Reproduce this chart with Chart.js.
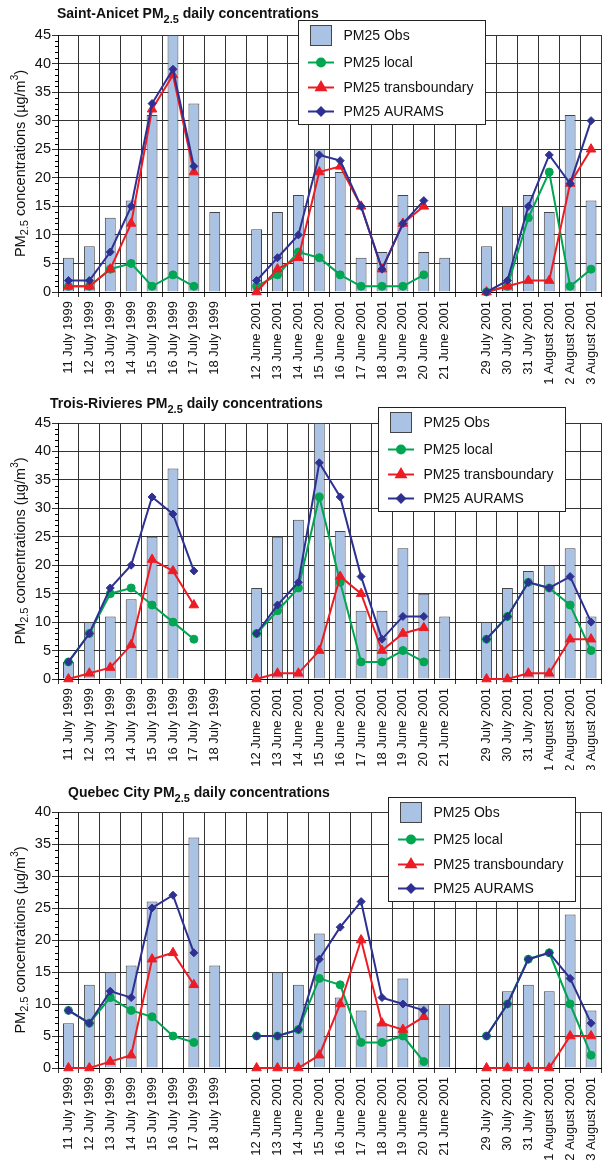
<!DOCTYPE html>
<html>
<head>
<meta charset="utf-8">
<script src="https://cdn.jsdelivr.net/npm/chart.js@4/dist/chart.umd.min.js"></script>
<style>
  body { margin: 0; background: #fff; }
  #wrap { position: relative; width: 608px; height: 1170px; overflow: hidden; }
  canvas { position: absolute; left: 0; }
</style>
</head>
<body>
<div id="wrap">
  <canvas id="c1" width="608" height="392" style="top:0"></canvas>
  <canvas id="c2" width="608" height="400" style="top:370px"></canvas>
  <canvas id="c3" width="608" height="400" style="top:770px"></canvas>
</div>
<script>
// ====== Dates (empty labels = gap between campaigns) ======
const days = [
  '11 July 1999', '12 July 1999', '13 July 1999', '14 July 1999', '15 July 1999', '16 July 1999', '17 July 1999', '18 July 1999',
  '',
  '12 June 2001', '13 June 2001', '14 June 2001', '15 June 2001', '16 June 2001', '17 June 2001', '18 June 2001', '19 June 2001', '20 June 2001', '21 June 2001',
  '',
  '29 July 2001', '30 July 2001', '31 July 2001', '1 August 2001', '2 August 2001', '3 August 2001'
];

// ====== Saint-Anicet ======
const saObs    = [6, 8, 13, 16, 31, 45, 33, 14, null, 11, 14, 17, 25, 21, 6, 7, 17, 7, 6, null, 8, 15, 17, 14, 31, 16];
const saLocal  = [1, 1, 4, 5, 1, 3, 1, null, null, 1, 3, 7, 6, 3, 1, 1, 1, 3, null, null, 0, 1, 13, 21, 1, 4];
const saTrans  = [1, 1, 4, 12, 32, 38, 21, null, null, 0, 4, 6, 21, 22, 15, 4, 12, 15, null, null, 0, 1, 2, 2, 19, 25];
const saAurams = [2, 2, 7, 15, 33, 39, 22, null, null, 2, 6, 10, 24, 23, 15, 4, 12, 16, null, null, 0, 2, 15, 24, 19, 30];

// ====== Trois-Rivieres ======
const trObs    = [3, 10, 11, 14, 25, 37, null, null, null, 16, 25, 28, 45, 26, 12, 12, 23, 15, 11, null, 10, 16, 19, 20, 23, 11];
const trLocal  = [3, 8, 15, 16, 13, 10, 7, null, null, 8, 12, 16, 32, 17, 3, 3, 5, 3, null, null, 7, 11, 17, 16, 13, 5];
const trTrans  = [0, 1, 2, 6, 21, 19, 13, null, null, 0, 1, 1, 5, 18, 15, 5, 8, 9, null, null, 0, 0, 1, 1, 7, 7];
const trAurams = [3, 8, 16, 20, 32, 29, 19, null, null, 8, 13, 17, 38, 32, 18, 7, 11, 11, null, null, 7, 11, 17, 16, 18, 10];

// ====== Quebec City ======
const qcObs    = [7, 13, 15, 16, 26, null, 36, 16, null, null, 15, 13, 21, 11, 9, 7, 14, 10, 10, null, null, 12, 13, 12, 24, 9];
const qcLocal  = [9, 7, 11, 9, 8, 5, 4, null, null, 5, 5, 6, 14, 13, 4, 4, 5, 1, null, null, 5, 10, 17, 18, 10, 2];
const qcTrans  = [0, 0, 1, 2, 17, 18, 13, null, null, 0, 0, 0, 2, 10, 20, 7, 6, 8, null, null, 0, 0, 0, 0, 5, 5];
const qcAurams = [9, 7, 12, 11, 25, 27, 18, null, null, 5, 5, 6, 17, 22, 26, 11, 10, 9, null, null, 5, 10, 17, 18, 14, 7];

const seriesNames = ['PM25 Obs', 'PM25 local', 'PM25 transboundary', 'PM25 AURAMS'];

const BAR = '#aac2e4', BAR_EDGE = '#454545';
const GREEN = '#00a651', RED = '#ed1c24', BLUE = '#2e3192';
const FONT = '"Liberation Sans", Arial, Helvetica, sans-serif';

Chart.defaults.font.family = FONT;
Chart.defaults.color = '#111';

// titles, y-axis label, minor ticks and the boxed legend
const decor = {
  id: 'decor',
  afterDraw(chart, args, o) {
    const ctx = chart.ctx;
    const y = chart.scales.y;
    const area = chart.chartArea;
    ctx.save();

    // minor ticks on the y axis
    ctx.strokeStyle = '#000';
    ctx.lineWidth = 1;
    for (let v = 0; v <= y.max; v++) {
      if (v % 5 === 0) continue;
      const py = Math.round(y.getPixelForValue(v)) + 0.5;
      ctx.beginPath();
      ctx.moveTo(area.left - 3, py);
      ctx.lineTo(area.left, py);
      ctx.stroke();
    }

    // title with subscript
    ctx.fillStyle = '#111';
    ctx.textBaseline = 'alphabetic';
    ctx.textAlign = 'left';
    let x = o.titleX;
    ctx.font = 'bold 14px ' + FONT;
    ctx.fillText(o.station + ' PM', x, o.titleY);
    x += ctx.measureText(o.station + ' PM').width;
    ctx.font = 'bold 11px ' + FONT;
    ctx.fillText('2.5', x, o.titleY + 5);
    x += ctx.measureText('2.5').width;
    ctx.font = 'bold 14px ' + FONT;
    ctx.fillText(' daily concentrations', x, o.titleY);

    // y axis title, rotated
    const parts = [
      ['PM', '14.5px', 0], ['2.5', '11px', 4], [' concentrations (\u00b5g/m', '14.5px', 0], ['3', '10px', -6], [')', '14.5px', 0]
    ];
    let total = 0;
    parts.forEach(p => { ctx.font = p[1] + ' ' + FONT; total += ctx.measureText(p[0]).width; });
    ctx.translate(21, (area.top + area.bottom) / 2);
    ctx.rotate(-Math.PI / 2);
    ctx.textBaseline = 'middle';
    let tx = -total / 2;
    parts.forEach(p => {
      ctx.font = p[1] + ' ' + FONT;
      ctx.fillText(p[0], tx, p[2]);
      tx += ctx.measureText(p[0]).width;
    });
    ctx.setTransform(1, 0, 0, 1, 0, 0);

    // legend box
    const lx = o.legendX + 0.5, ly = o.legendY + 0.5;
    ctx.fillStyle = '#fff';
    ctx.strokeStyle = '#222';
    ctx.lineWidth = 1;
    ctx.fillRect(lx, ly, 187, 104);
    ctx.strokeRect(lx, ly, 187, 104);
    const rows = [15, 42, 67, 91];
    const sx = lx + 22.5;
    ctx.font = '14px ' + FONT;
    ctx.textBaseline = 'middle';
    chart.data.datasets.forEach((ds, i) => {
      const ry = ly + rows[i];
      if (ds.type === 'bar') {
        ctx.fillStyle = BAR;
        ctx.strokeStyle = BAR_EDGE;
        ctx.fillRect(sx - 10.5, ry - 10, 21, 20);
        ctx.strokeRect(sx - 10.5, ry - 10, 21, 20);
      } else {
        ctx.strokeStyle = ds.borderColor;
        ctx.fillStyle = ds.borderColor;
        ctx.lineWidth = 2;
        ctx.beginPath();
        ctx.moveTo(sx - 13, ry);
        ctx.lineTo(sx + 13, ry);
        ctx.stroke();
        Chart.helpers.drawPoint(ctx, { pointStyle: ds.pointStyle, radius: ds.pointRadius, rotation: 0, borderWidth: 1 }, sx, ry);
        ctx.lineWidth = 1;
      }
      ctx.fillStyle = '#111';
      ctx.fillText(ds.label, lx + 45, ry + 1);
    });
    ctx.restore();
  }
};

function lineSet(label, data, color, style, radius, order) {
  return {
    type: 'line', label, data, order,
    borderColor: color, backgroundColor: color,
    borderWidth: 2, tension: 0, spanGaps: false, clip: false,
    pointStyle: style, pointRadius: radius, pointBorderWidth: 1,
    pointBackgroundColor: color, pointBorderColor: color
  };
}

function makePanel(id, station, obs, local, trans, aurams, cfg) {
  new Chart(document.getElementById(id), {
    data: {
      labels: days,
      datasets: [
        { type: 'bar', label: seriesNames[0], data: obs, order: 4,
          backgroundColor: BAR, borderColor: BAR_EDGE, borderWidth: 1,
          barPercentage: 0.52, categoryPercentage: 1 },
        lineSet(seriesNames[1], local, GREEN, 'circle', 4, 3),
        lineSet(seriesNames[2], trans, RED, 'triangle', 5.5, 2),
        lineSet(seriesNames[3], aurams, BLUE, 'rectRot', 4, 1)
      ]
    },
    options: {
      responsive: false,
      animation: false,
      events: [],
      layout: { padding: { top: cfg.padTop, left: 0, right: 0, bottom: 0 } },
      plugins: {
        legend: { display: false },
        tooltip: { enabled: false },
        decor: { station, titleX: cfg.titleX, titleY: cfg.titleY, legendX: cfg.legendX, legendY: cfg.legendY }
      },
      scales: {
        x: {
          offset: true,
          grid: { offset: true, color: '#333', lineWidth: 1, tickLength: 5 },
          border: { color: '#000' },
          ticks: { autoSkip: false, minRotation: 90, maxRotation: 90, padding: 4, font: { size: 13 }, color: '#111' },
          afterFit: s => { s.height = cfg.axisH; s.paddingLeft = 0; s.paddingRight = 0; }
        },
        y: {
          min: 0, max: cfg.max,
          ticks: { stepSize: 5, padding: 1, font: { size: 14.5 }, color: '#111' },
          grid: { color: '#333', lineWidth: 1, tickLength: 6 },
          border: { color: '#000' },
          afterFit: s => { s.width = 58; s.paddingTop = 0; s.paddingBottom = 0; }
        }
      }
    },
    plugins: [decor]
  });
}

makePanel('c1', 'Saint-Anicet', saObs, saLocal, saTrans, saAurams,
  { max: 45, padTop: 35, axisH: 100, titleX: 57, titleY: 18, legendX: 298, legendY: 20 });
makePanel('c2', 'Trois-Rivieres', trObs, trLocal, trTrans, trAurams,
  { max: 45, padTop: 53, axisH: 91, titleX: 50, titleY: 38, legendX: 378, legendY: 37 });
makePanel('c3', 'Quebec City', qcObs, qcLocal, qcTrans, qcAurams,
  { max: 40, padTop: 42, axisH: 102, titleX: 68, titleY: 27, legendX: 388, legendY: 27 });
</script>
</body>
</html>
